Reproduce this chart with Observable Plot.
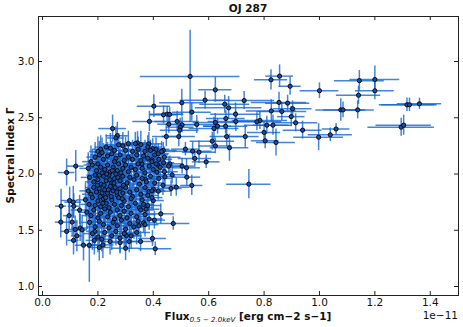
<!DOCTYPE html>
<html><head><meta charset="utf-8">
<script src="https://cdn.jsdelivr.net/npm/d3@7"></script>
<script src="https://cdn.jsdelivr.net/npm/@observablehq/plot@0.6"></script>
<style>body{margin:0;background:#fff} svg{display:block}</style>
</head><body><div id="chart"></div>
<script>
// ---- data ----
const flux = [
  // outer points
  0.533,0.624,0.825,0.856,0.894,1.000,1.144,1.200,1.200,1.141,
  1.077,1.085,1.138,1.316,1.325,1.361,1.295,1.304,1.060,1.039,
  0.997,0.939,0.914,0.903,0.898,0.885,0.864,0.854,0.826,0.832,
  0.810,0.785,0.774,0.800,0.804,0.843,0.732,0.728,0.697,0.698,
  0.672,0.658,0.662,0.661,0.665,0.675,0.632,0.624,0.619,0.624,
  0.613,0.587,0.591,0.557,0.565,0.542,0.550,0.516,0.520,0.503,
  0.539,0.504,0.497,0.492,0.495,0.486,0.504,0.521,0.539,0.483,
  0.464,0.468,0.442,0.745,0.472,0.427,0.404,0.407,0.397,0.402,
  0.386,0.447,0.450,0.459,0.437,0.456,0.436,0.437,0.418,0.460,
  0.253,0.120,0.087,0.067,0.066,0.087,0.098,0.096,0.111,0.113,
  0.107,0.112,0.118,0.124,0.134,0.136,0.143,0.148,0.169,0.187,
  0.189,0.205,0.214,0.218,0.244,0.280,0.300,0.313,0.303,0.354,
  0.348,0.365,0.365,0.374,0.400,0.384,0.418,0.400,0.372,0.413,
  0.416,0.395,0.398,0.384,0.343,0.359,
  // dense cluster
  0.270,0.265,
  0.210,0.230,0.245,0.275,0.290,0.310,0.335,0.355,0.380,0.200,0.260,0.300,0.325,0.345,0.370,0.390,0.410,0.430,
  0.190,0.205,0.220,0.235,0.250,0.265,0.280,0.295,0.310,0.325,0.340,0.355,0.365,0.380,0.395,0.405,0.420,0.440,0.175,0.215,0.260,
  0.165,0.180,0.195,0.200,0.210,0.225,0.235,0.245,0.255,0.270,0.275,0.290,0.300,0.310,0.320,0.335,0.345,0.360,0.370,0.385,0.400,0.410,0.425,0.440,0.455,
  0.170,0.185,0.190,0.200,0.212,0.220,0.230,0.240,0.250,0.260,0.265,0.280,0.290,0.305,0.315,0.330,0.340,0.350,0.360,0.375,0.390,0.405,0.420,0.435,
  0.165,0.175,0.185,0.195,0.205,0.215,0.225,0.235,0.245,0.255,0.270,0.280,0.290,0.300,0.315,0.325,0.340,0.355,0.370,0.380,0.395,
  0.155,0.168,0.180,0.190,0.200,0.210,0.220,0.230,0.240,0.250,0.260,0.275,0.285,0.295,0.310,0.320,0.335,0.350,0.360,0.380,0.395,
  0.160,0.175,0.185,0.200,0.210,0.225,0.235,0.245,0.260,0.270,0.280,0.295,0.305,0.320,0.340,0.355,0.370,0.385,
  0.170,0.190,0.205,0.220,0.240,0.255,0.270,0.285,0.300,0.315,0.330,0.345,0.370,
  0.180,0.200,0.225,0.250,0.265,0.280,0.295,0.320,0.340,
  0.205,0.215,0.222,0.232,0.243,0.252,0.262,0.272,0.283,0.292,0.215,0.228,0.248,0.268,0.288,0.198,0.208,0.218,0.238,0.258
];
const gamma = [
  2.867,2.748,2.837,2.870,2.780,2.740,2.830,2.840,2.740,2.700,
  2.570,2.570,2.570,2.615,2.615,2.624,2.416,2.434,2.400,2.348,
  2.327,2.390,2.455,2.580,2.510,2.630,2.556,2.636,2.560,2.434,
  2.434,2.476,2.464,2.370,2.295,2.280,2.333,2.653,2.532,2.467,
  2.588,2.620,2.493,2.425,2.333,2.233,2.425,2.458,2.404,2.250,
  2.292,2.656,2.108,2.440,2.194,2.203,2.138,2.221,2.055,2.633,
  2.550,2.437,2.416,2.333,2.390,2.467,2.070,1.972,1.898,1.883,
  1.871,1.993,1.975,1.910,1.560,1.646,1.590,1.335,1.427,2.603,
  2.467,2.333,2.532,2.530,2.526,2.443,2.209,2.100,2.180,2.090,
  2.404,2.070,2.013,1.714,1.572,1.490,1.764,1.630,1.750,1.714,
  1.572,1.410,1.507,1.450,1.680,1.520,1.504,1.367,1.367,1.410,
  1.490,1.347,1.420,1.370,1.400,1.390,1.340,1.400,1.453,1.400,
  1.540,1.566,1.730,1.687,1.764,1.843,1.847,1.865,1.951,2.016,
  2.080,2.126,2.224,2.268,2.277,2.090,
  2.34,2.32,
  2.22,2.24,2.23,2.26,2.25,2.27,2.27,2.26,2.24,2.20,2.21,2.21,2.20,2.22,2.20,2.21,2.22,2.20,
  2.15,2.17,2.13,2.16,2.18,2.14,2.17,2.12,2.15,2.13,2.17,2.12,2.16,2.14,2.11,2.17,2.13,2.15,2.11,2.19,2.11,
  2.05,2.08,2.03,2.09,2.06,2.04,2.08,2.02,2.06,2.03,2.09,2.05,2.08,2.02,2.06,2.04,2.09,2.05,2.01,2.07,2.04,2.09,2.06,2.02,2.07,
  1.97,1.93,1.99,1.95,1.91,1.98,1.94,1.99,1.92,1.96,2.00,1.94,1.98,1.92,1.97,1.95,1.99,1.91,1.96,1.93,1.98,1.92,1.96,1.90,
  1.85,1.82,1.88,1.84,1.87,1.81,1.86,1.83,1.89,1.85,1.81,1.87,1.83,1.88,1.84,1.80,1.86,1.82,1.88,1.81,1.85,
  1.77,1.73,1.79,1.72,1.76,1.71,1.78,1.74,1.70,1.77,1.73,1.79,1.72,1.76,1.71,1.78,1.74,1.70,1.77,1.72,1.79,
  1.66,1.63,1.68,1.61,1.65,1.69,1.62,1.66,1.60,1.68,1.63,1.67,1.61,1.65,1.62,1.68,1.64,1.60,
  1.57,1.53,1.58,1.55,1.52,1.57,1.54,1.59,1.51,1.56,1.53,1.58,1.55,
  1.47,1.44,1.48,1.45,1.49,1.43,1.47,1.45,1.48,
  1.99,2.01,1.90,2.00,1.95,2.03,1.88,1.97,2.01,1.90,1.83,1.79,1.80,1.84,1.78,1.90,1.80,1.74,1.86,1.92
];
const fluxErr = [
  0.18,0.06,0.06,0.05,0.04,0.07,0.09,0.09,0.07,0.08,
  0.09,0.07,0.06,0.10,0.10,0.08,0.12,0.10,0.05,0.08,
  0.09,0.07,0.08,0.07,0.05,0.08,0.09,0.10,0.09,0.07,
  0.08,0.10,0.09,0.06,0.05,0.07,0.05,0.11,0.09,0.10,
  0.12,0.09,0.07,0.08,0.06,0.07,0.05,0.08,0.09,0.06,
  0.08,0.09,0.05,0.07,0.06,0.07,0.06,0.05,0.05,0.08,
  0.07,0.06,0.05,0.06,0.07,0.08,0.05,0.05,0.04,0.05,
  0.04,0.05,0.04,0.08,0.06,0.05,0.04,0.06,0.05,0.06,
  0.06,0.05,0.06,0.05,0.05,0.04,0.05,0.04,0.04,0.05,
  0.05,0.03,0.03,0.02,0.02,0.02,0.03,0.02,0.03,0.02,
  0.02,0.02,0.03,0.02,0.03,0.03,0.02,0.03,0.03,0.03,
  0.03,0.04,0.03,0.04,0.04,0.04,0.05,0.04,0.05,0.05,
  0.04,0.05,0.04,0.05,0.04,0.05,0.05,0.04,0.05,0.05,
  0.04,0.05,0.04,0.05,0.04,0.05,
  0.04,0.03,
  0.03,0.04,0.03,0.05,0.04,0.04,0.05,0.04,0.05,0.03,0.04,0.04,0.05,0.04,0.05,0.04,0.05,0.05,
  0.03,0.03,0.04,0.03,0.04,0.04,0.05,0.04,0.04,0.05,0.04,0.05,0.04,0.05,0.04,0.05,0.05,0.06,0.03,0.03,0.04,
  0.03,0.03,0.03,0.04,0.03,0.04,0.03,0.04,0.04,0.04,0.05,0.04,0.04,0.05,0.04,0.05,0.04,0.05,0.04,0.05,0.05,0.04,0.05,0.05,0.05,
  0.03,0.03,0.03,0.03,0.04,0.03,0.04,0.03,0.04,0.04,0.04,0.04,0.05,0.04,0.04,0.05,0.04,0.04,0.05,0.04,0.05,0.04,0.05,0.05,
  0.03,0.03,0.03,0.03,0.04,0.03,0.04,0.03,0.04,0.04,0.04,0.04,0.04,0.05,0.04,0.04,0.05,0.04,0.05,0.04,0.05,
  0.03,0.03,0.03,0.03,0.03,0.04,0.03,0.04,0.04,0.03,0.04,0.04,0.04,0.04,0.05,0.04,0.04,0.05,0.04,0.05,0.04,
  0.03,0.03,0.03,0.03,0.04,0.03,0.04,0.03,0.04,0.04,0.04,0.04,0.04,0.05,0.04,0.05,0.04,0.05,
  0.03,0.03,0.03,0.04,0.03,0.04,0.04,0.04,0.04,0.05,0.04,0.04,0.05,
  0.03,0.03,0.03,0.04,0.03,0.04,0.04,0.04,0.05,
  0.03,0.03,0.04,0.03,0.04,0.03,0.04,0.04,0.03,0.04,0.03,0.04,0.03,0.04,0.04,0.03,0.03,0.04,0.03,0.04
];
const gammaErr = [
  0.41,0.11,0.09,0.10,0.08,0.07,0.09,0.12,0.08,0.08,
  0.10,0.07,0.08,0.06,0.06,0.05,0.08,0.09,0.05,0.06,
  0.12,0.08,0.08,0.07,0.09,0.07,0.08,0.09,0.10,0.09,
  0.08,0.08,0.08,0.10,0.07,0.12,0.10,0.08,0.10,0.09,
  0.10,0.08,0.07,0.07,0.09,0.12,0.07,0.08,0.10,0.07,
  0.08,0.08,0.06,0.08,0.10,0.08,0.07,0.06,0.08,0.12,
  0.08,0.07,0.08,0.09,0.08,0.09,0.07,0.08,0.09,0.08,
  0.07,0.08,0.09,0.13,0.06,0.09,0.08,0.06,0.07,0.10,
  0.09,0.09,0.07,0.06,0.08,0.08,0.07,0.08,0.09,0.07,
  0.12,0.14,0.12,0.15,0.14,0.13,0.12,0.13,0.14,0.11,
  0.12,0.13,0.12,0.14,0.13,0.12,0.13,0.14,0.33,0.13,
  0.12,0.12,0.11,0.12,0.12,0.10,0.11,0.10,0.11,0.09,
  0.10,0.09,0.10,0.09,0.08,0.09,0.08,0.09,0.10,0.08,
  0.09,0.09,0.09,0.10,0.10,0.09,
  0.12,0.10,
  0.12,0.11,0.13,0.10,0.12,0.11,0.10,0.12,0.10,0.13,0.11,0.12,0.10,0.11,0.10,0.09,0.10,0.09,
  0.13,0.12,0.14,0.12,0.11,0.13,0.12,0.11,0.12,0.10,0.11,0.12,0.10,0.11,0.10,0.09,0.10,0.09,0.14,0.13,0.12,
  0.14,0.13,0.12,0.13,0.12,0.11,0.13,0.12,0.11,0.12,0.11,0.12,0.10,0.11,0.12,0.10,0.11,0.10,0.11,0.10,0.09,0.10,0.09,0.09,0.08,
  0.14,0.13,0.12,0.14,0.12,0.13,0.11,0.12,0.13,0.11,0.12,0.11,0.12,0.10,0.11,0.12,0.10,0.11,0.10,0.11,0.10,0.10,0.09,0.09,
  0.14,0.13,0.14,0.12,0.13,0.12,0.13,0.12,0.12,0.11,0.12,0.12,0.11,0.11,0.12,0.11,0.10,0.11,0.10,0.10,0.10,
  0.15,0.14,0.13,0.14,0.13,0.13,0.12,0.13,0.12,0.12,0.13,0.11,0.12,0.11,0.12,0.11,0.11,0.10,0.11,0.10,0.10,
  0.15,0.14,0.14,0.13,0.14,0.13,0.13,0.12,0.13,0.12,0.12,0.12,0.11,0.11,0.11,0.10,0.11,0.10,
  0.15,0.14,0.14,0.13,0.14,0.13,0.12,0.13,0.12,0.12,0.11,0.12,0.11,
  0.15,0.14,0.14,0.13,0.13,0.13,0.12,0.12,0.11,
  0.13,0.12,0.13,0.12,0.12,0.11,0.13,0.12,0.11,0.12,0.13,0.13,0.12,0.12,0.11,0.14,0.13,0.13,0.12,0.12
];
const xTicks = [0.0, 0.2, 0.4, 0.6, 0.8, 1.0, 1.2, 1.4];
const yTicks = [1.0, 1.5, 2.0, 2.5, 3.0];
const titleText = "OJ 287";
const yLabel = "Spectral index Γ";
const xLabelMain = "Flux";
const xLabelSub = "0.5 − 2.0keV";
const xLabelUnit = " [erg cm−2 s−1]";
const offsetText = "1e−11";

// ---- chart ----
const data = flux.map((f, i) => ({f, g: gamma[i], fe: fluxErr[i], ge: gammaErr[i]}));
const W = 463, H = 327, mL = 38, mR = 5, mT = 16, mB = 32;
const pw = W - mL - mR, ph = H - mT - mB;
const font = "'DejaVu Sans', sans-serif";
const ink = "#222";
const barColor = "#1466d4";
const fmt = d3.format(".1f");

const svg = Plot.plot({
  width: W, height: H,
  marginLeft: mL, marginRight: mR, marginTop: mT, marginBottom: mB,
  style: {fontFamily: font, fontSize: "10.5px", background: "white", color: "#111"},
  x: {domain: [-0.0145, 1.502]},
  y: {domain: [0.92, 3.4]},
  marks: [
    Plot.ruleY(data, {y: "g", x1: d => d.f - d.fe, x2: d => d.f + d.fe, stroke: barColor, strokeOpacity: 0.8, strokeWidth: 1.5, clip: true}),
    Plot.ruleX(data, {x: "f", y1: d => d.g - d.ge, y2: d => d.g + d.ge, stroke: barColor, strokeOpacity: 0.8, strokeWidth: 1.5, clip: true}),
    Plot.dot(data, {x: "f", y: "g", r: 2.1, fill: "#1c4f92", stroke: "#08081a", strokeWidth: 1}),
    Plot.frame({stroke: ink, strokeWidth: 1}),
    Plot.tickX(xTicks, {x: d => d, insetTop: ph - 4, stroke: ink}),
    Plot.tickX(xTicks, {x: d => d, insetBottom: ph - 4, stroke: ink}),
    Plot.tickY(yTicks, {y: d => d, insetRight: pw - 4, stroke: ink}),
    Plot.tickY(yTicks, {y: d => d, insetLeft: pw - 4, stroke: ink}),
    Plot.axisX(xTicks, {tickSize: 0, tickPadding: 3, tickFormat: fmt, label: null, fill: "#111"}),
    Plot.axisY(yTicks, {tickSize: 0, tickPadding: 4, tickFormat: fmt, label: null, fill: "#111"})
  ]
});

const s = d3.select(svg);
s.append("text").attr("x", mL + pw / 2).attr("y", 12.3).attr("text-anchor", "middle")
  .attr("font-weight", "bold").attr("font-size", "10.5px").attr("fill", "#111").text(titleText);
s.append("text").attr("transform", `translate(14,${mT + ph / 2}) rotate(-90)`).attr("text-anchor", "middle")
  .attr("font-weight", "bold").attr("font-size", "10.5px").attr("fill", "#111").text(yLabel);
const xl = s.append("text").attr("x", mL + pw / 2).attr("y", 320).attr("text-anchor", "middle")
  .attr("font-size", "10.5px").attr("fill", "#111");
xl.append("tspan").attr("font-weight", "bold").text(xLabelMain);
xl.append("tspan").attr("font-style", "italic").attr("font-size", "7px").attr("dy", "2").text(xLabelSub);
xl.append("tspan").attr("font-weight", "bold").attr("dy", "-2").text(xLabelUnit);
s.append("text").attr("x", W - mR).attr("y", 319).attr("text-anchor", "end")
  .attr("font-size", "10.5px").attr("fill", "#111").text(offsetText);

document.getElementById("chart").appendChild(svg);
</script>
</body></html>
